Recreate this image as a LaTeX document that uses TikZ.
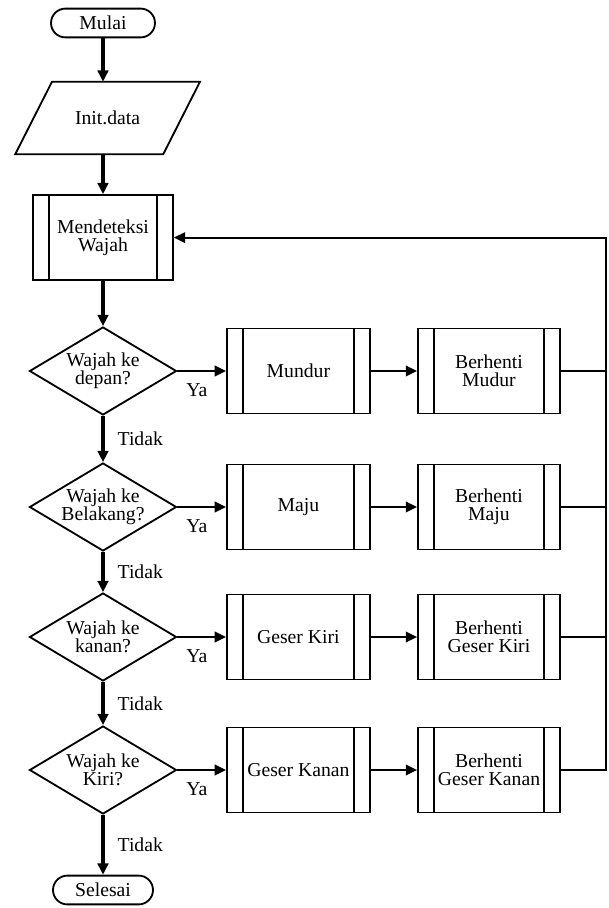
\documentclass[tikz,border=0pt]{standalone}
\usepackage{fontspec}
\setmainfont{Liberation Serif}
\usetikzlibrary{shapes.geometric,arrows.meta,calc}

\tikzset{
  base/.style={draw, line width=1.3pt, align=center, font=\fontsize{14pt}{13pt}\selectfont},
  term/.style={base, rectangle, rounded corners=0.36cm, minimum width=2.6cm, minimum height=0.72cm},
  io/.style={rectangle, align=center, font=\fontsize{14pt}{13pt}\selectfont, minimum width=3.7cm, minimum height=1.8cm},
  subproc/.style={base, rectangle, minimum width=3.55cm, minimum height=2.125cm,
    path picture={
      \draw[line width=1.3pt] ([xshift=0.4cm]path picture bounding box.north west) -- ([xshift=0.4cm]path picture bounding box.south west);
      \draw[line width=1.3pt] ([xshift=-0.4cm]path picture bounding box.north east) -- ([xshift=-0.4cm]path picture bounding box.south east);}},
  decision/.style={base, diamond, aspect=1.67, inner sep=0pt, minimum width=3.675cm, minimum height=2.2cm},
  vflow/.style={line width=2.2pt, -{Triangle[length=8pt,width=7.5pt]}},
  hflow/.style={line width=1.3pt, -{Triangle[length=8pt,width=7.5pt]}},
  lbl/.style={font=\fontsize{14pt}{13pt}\selectfont}
}

\begin{document}
\begin{tikzpicture}
\useasboundingbox (0,0) rectangle (15.2,-22.7);

\node[term] (mulai) at (2.575,-0.575) {Mulai};
\node[io] (init) at (2.69,-2.95) {Init.data};
\draw[line width=1.3pt] ([xshift=-1.39cm]init.north) -- ([xshift=2.31cm]init.north)
  -- ([xshift=1.39cm]init.south) -- ([xshift=-2.31cm]init.south) -- cycle;
\node[subproc, minimum width=3.5cm] (deteksi) at (2.575,-5.94) {Mendeteksi\\Wajah};

\node[decision] (d1) at (2.575,-9.275) {Wajah ke\\depan?};
\node[decision] (d2) at (2.575,-12.675) {Wajah ke\\Belakang?};
\node[decision] (d3) at (2.575,-15.925) {Wajah ke\\kanan?};
\node[decision] (d4) at (2.575,-19.25) {Wajah ke\\Kiri?};
\node[term, minimum width=2.5cm] (selesai) at (2.575,-22.25) {Selesai};

\node[subproc, minimum width=3.575cm] (a1) at (7.46,-9.275) {Mundur};
\node[subproc, minimum width=3.575cm] (a2) at (7.46,-12.675) {Maju};
\node[subproc, minimum width=3.575cm] (a3) at (7.46,-15.925) {Geser Kiri};
\node[subproc, minimum width=3.575cm] (a4) at (7.46,-19.25) {Geser Kanan};

\node[subproc] (b1) at (12.225,-9.275) {Berhenti\\Mudur};
\node[subproc] (b2) at (12.225,-12.675) {Berhenti\\Maju};
\node[subproc] (b3) at (12.225,-15.925) {Berhenti\\Geser Kiri};
\node[subproc] (b4) at (12.225,-19.25) {Berhenti\\Geser Kanan};

\coordinate (back) at (15.15,-5.94);

% alur utama
\draw[vflow] (mulai) -- (mulai |- init.north);
\draw[vflow] (deteksi |- init.south) -- (deteksi);
\draw[vflow] (deteksi) -- (d1);
\draw[vflow] (d1) -- node[lbl, right, xshift=6pt] {Tidak} (d2);
\draw[vflow] (d2) -- node[lbl, right, xshift=6pt] {Tidak} (d3);
\draw[vflow] (d3) -- node[lbl, right, xshift=6pt] {Tidak} (d4);
\draw[vflow] (d4) -- node[lbl, right, xshift=6pt] {Tidak} (selesai);

\draw[hflow] (d1.east) -- node[lbl, below, pos=0.4, yshift=-5pt] {Ya} (a1.west);
\draw[hflow] (d2.east) -- node[lbl, below, pos=0.4, yshift=-5pt] {Ya} (a2.west);
\draw[hflow] (d3.east) -- node[lbl, below, pos=0.4, yshift=-5pt] {Ya} (a3.west);
\draw[hflow] (d4.east) -- node[lbl, below, pos=0.4, yshift=-5pt] {Ya} (a4.west);

\draw[hflow] (a1) -- (b1);
\draw[hflow] (a2) -- (b2);
\draw[hflow] (a3) -- (b3);
\draw[hflow] (a4) -- (b4);

% kembali ke deteksi
\draw[line width=1.3pt] (b1.east) -- (b1.east -| back);
\draw[line width=1.3pt] (b2.east) -- (b2.east -| back);
\draw[line width=1.3pt] (b3.east) -- (b3.east -| back);
\draw[hflow] (b4.east) -| (back) -- (deteksi.east);
\end{tikzpicture}
\end{document}
